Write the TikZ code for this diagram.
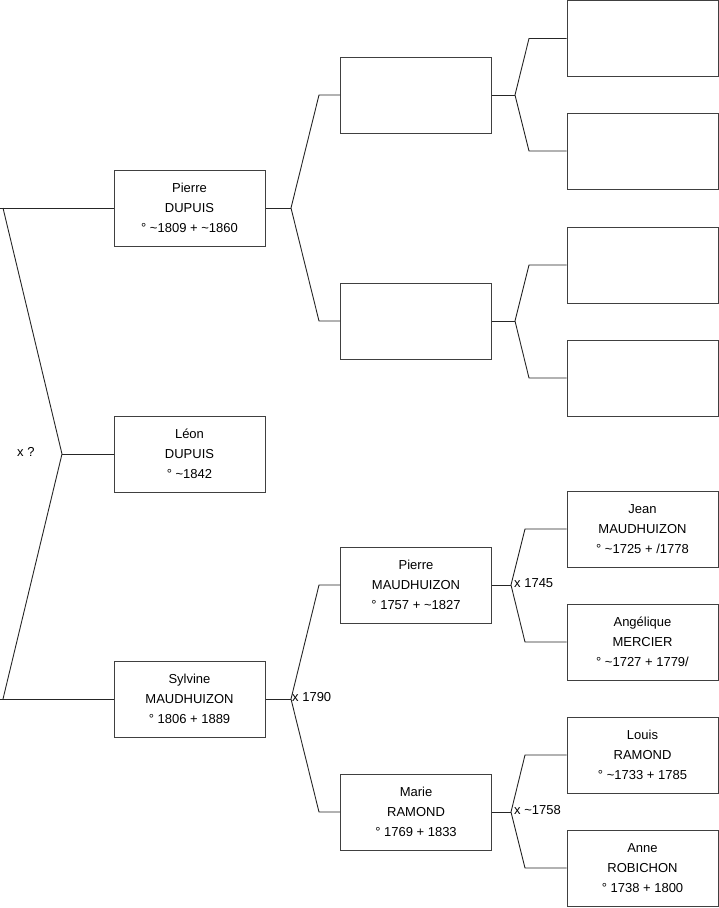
\documentclass[tikz,border=0pt]{standalone}
\usepackage{fontspec}
\setmainfont{Liberation Sans}
\usetikzlibrary{positioning}
\newcommand{\abt}{\textasciitilde}
\tikzset{
  personbox/.style={
    rectangle,
    draw=black!75,
    fill=white,
    line width=1pt,
    align=center,
    inner sep=0pt,
    minimum width=151pt,
    minimum height=76pt,
    font=\fontsize{13}{20}\selectfont
  },
  link/.style={draw=black!85, line width=0.9pt},
  union/.style={anchor=west, inner sep=1pt, font=\fontsize{13}{15}\selectfont}
}

\begin{document}
\begin{tikzpicture}[x=1pt, y=-1pt]
  \useasboundingbox (0,0) rectangle (719,908);

  % generation 1
  \node[personbox] (pd) at (189.5,208) {Pierre\\DUPUIS\\° \abt1809 + \abt1860};
  \node[personbox] (ld) at (189.5,454) {Léon\\DUPUIS\\° \abt1842};
  \node[personbox] (sm) at (189.5,699) {Sylvine\\MAUDHUIZON\\° 1806 + 1889};

  % generation 2
  \node[personbox] (pdf) at (416,95) {};
  \node[personbox] (pdm) at (416,321) {};
  \node[personbox] (pm) at (416,585) {Pierre\\MAUDHUIZON\\° 1757 + \abt1827};
  \node[personbox] (mr) at (416,812) {Marie\\RAMOND\\° 1769 + 1833};

  % generation 3
  \node[personbox] (e1) at (642.5,38.5) {};
  \node[personbox] (e2) at (642.5,151) {};
  \node[personbox] (e3) at (642.5,265) {};
  \node[personbox] (e4) at (642.5,378) {};
  \node[personbox] (jm) at (642.5,529) {Jean\\MAUDHUIZON\\° \abt1725 + /1778};
  \node[personbox] (am) at (642.5,642) {Angélique\\MERCIER\\° \abt1727 + 1779/};
  \node[personbox] (lr) at (642.5,755) {Louis\\RAMOND\\° \abt1733 + 1785};
  \node[personbox] (ar) at (642.5,868) {Anne\\ROBICHON\\° 1738 + 1800};

  % fork points
  \coordinate (r0) at (0,208);
  \coordinate (r1) at (3,208);
  \coordinate (r2) at (62,454);
  \coordinate (r3) at (3,699);
  \coordinate (r4) at (0,699);

  \coordinate (k1) at (291,208);
  \coordinate (k1a) at (319,95);
  \coordinate (k1b) at (319,321);
  \coordinate (k2) at (291,699);
  \coordinate (k2a) at (319,585);
  \coordinate (k2b) at (319,812);

  \coordinate (m1) at (515,95);
  \coordinate (m1a) at (529,38.5);
  \coordinate (m1b) at (529,151);
  \coordinate (m2) at (515,321);
  \coordinate (m2a) at (529,265);
  \coordinate (m2b) at (529,378);
  \coordinate (m3) at (511,585);
  \coordinate (m3a) at (525,529);
  \coordinate (m3b) at (525,642);
  \coordinate (m4) at (511,812);
  \coordinate (m4a) at (525,755);
  \coordinate (m4b) at (525,868);

  % connectors
  \draw[link] (r0) -- (pd.west);
  \draw[link] (r4) -- (sm.west);
  \draw[link] (r1) -- (r2) -- (r3);
  \draw[link] (r2) -- (ld.west);

  \draw[link] (pd.east) -- (k1);
  \draw[link] (pdf.west) -- (k1a) -- (k1) -- (k1b) -- (pdm.west);
  \draw[link] (sm.east) -- (k2);
  \draw[link] (pm.west) -- (k2a) -- (k2) -- (k2b) -- (mr.west);

  \draw[link] (pdf.east) -- (m1);
  \draw[link] (e1.west) -- (m1a) -- (m1) -- (m1b) -- (e2.west);
  \draw[link] (pdm.east) -- (m2);
  \draw[link] (e3.west) -- (m2a) -- (m2) -- (m2b) -- (e4.west);
  \draw[link] (pm.east) -- (m3);
  \draw[link] (jm.west) -- (m3a) -- (m3) -- (m3b) -- (am.west);
  \draw[link] (mr.east) -- (m4);
  \draw[link] (lr.west) -- (m4a) -- (m4) -- (m4b) -- (ar.west);

  % unions
  \node[union] (u0) at (16,452) {x ?};
  \node[union] (u1) at (291,697) {x 1790};
  \node[union] (u2) at (513,583) {x 1745};
  \node[union] (u3) at (513,810) {x \abt1758};
\end{tikzpicture}
\end{document}
